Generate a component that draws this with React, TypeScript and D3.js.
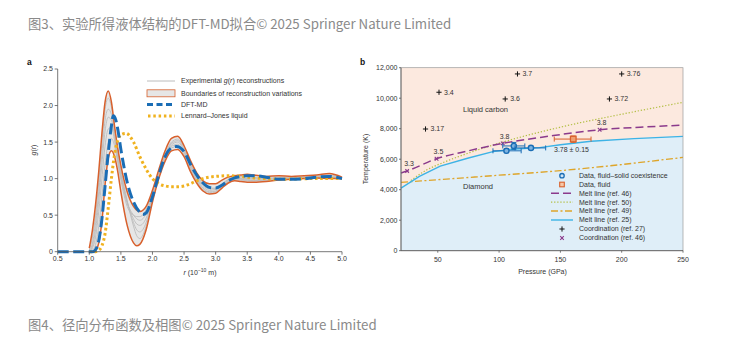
import React from "react";
import * as d3 from "d3";

const TITLE_TOP = "图3、实验所得液体结构的DFT-MD拟合© 2025 Springer Nature Limited";
const TITLE_BOTTOM = "图4、径向分布函数及相图© 2025 Springer Nature Limited";

// ---------- Panel a : g(r) ----------
const R_TICKS = [0.5, 1.0, 1.5, 2.0, 2.5, 3.0, 3.5, 4.0, 4.5, 5.0];
const G_TICKS = [0, 0.5, 1.0, 1.5, 2.0, 2.5];

const R_GRID = [1.0, 1.05, 1.1, 1.15, 1.2, 1.25, 1.3, 1.35, 1.4, 1.45, 1.5, 1.6, 1.7, 1.75, 1.8, 1.9, 2.0, 2.1, 2.2, 2.3, 2.4, 2.5, 2.6, 2.7, 2.8, 2.9, 3.0, 3.1, 3.2, 3.3, 3.4, 3.5, 3.6, 3.8, 4.0, 4.2, 4.4, 4.6, 4.8, 5.0];
const UPPER = [0.05, 0.3, 0.65, 1.1, 1.62, 2.05, 2.2, 2.05, 1.72, 1.42, 1.18, 0.82, 0.62, 0.57, 0.55, 0.62, 0.84, 1.12, 1.38, 1.55, 1.58, 1.45, 1.25, 1.08, 0.97, 0.93, 0.93, 0.98, 1.02, 1.04, 1.05, 1.06, 1.05, 1.03, 1.04, 1.03, 1.04, 1.05, 1.07, 1.02];
const LOWER = [0, 0, 0.02, 0.12, 0.42, 0.92, 1.28, 1.38, 1.3, 1.1, 0.82, 0.36, 0.12, 0.08, 0.1, 0.3, 0.68, 1.0, 1.24, 1.38, 1.4, 1.3, 1.1, 0.94, 0.83, 0.79, 0.8, 0.87, 0.94, 0.97, 0.96, 0.95, 0.95, 0.96, 0.98, 0.99, 1.0, 1.01, 1.0, 1.0];
const GRAY1 = [0.02, 0.2, 0.5, 0.95, 1.5, 1.95, 2.1, 1.98, 1.68, 1.38, 1.12, 0.7, 0.35, 0.22, 0.18, 0.35, 0.72, 1.05, 1.32, 1.5, 1.54, 1.42, 1.22, 1.05, 0.93, 0.87, 0.87, 0.93, 0.99, 1.02, 1.03, 1.03, 1.02, 1.0, 1.02, 1.01, 1.02, 1.03, 1.05, 1.01];
const GRAY2 = [0.01, 0.12, 0.4, 0.82, 1.35, 1.8, 1.95, 1.88, 1.62, 1.33, 1.08, 0.68, 0.4, 0.3, 0.27, 0.4, 0.74, 1.06, 1.32, 1.48, 1.52, 1.4, 1.2, 1.03, 0.91, 0.86, 0.86, 0.92, 0.98, 1.01, 1.01, 1.0, 1.0, 1.0, 1.01, 1.01, 1.02, 1.03, 1.04, 1.01];
const GRAY3 = [0, 0.08, 0.3, 0.7, 1.2, 1.65, 1.84, 1.8, 1.58, 1.3, 1.05, 0.68, 0.45, 0.38, 0.36, 0.46, 0.76, 1.06, 1.3, 1.46, 1.5, 1.38, 1.18, 1.01, 0.89, 0.84, 0.85, 0.91, 0.97, 1.0, 1.0, 0.99, 0.98, 0.99, 1.0, 1.0, 1.01, 1.02, 1.03, 1.0];
const GRAY4 = [0, 0.05, 0.2, 0.55, 1.0, 1.45, 1.68, 1.7, 1.52, 1.26, 1.02, 0.67, 0.5, 0.45, 0.43, 0.52, 0.78, 1.06, 1.29, 1.44, 1.47, 1.36, 1.16, 0.99, 0.87, 0.82, 0.83, 0.9, 0.96, 0.99, 0.99, 0.98, 0.97, 0.98, 0.99, 1.0, 1.01, 1.02, 1.02, 1.0];
const GRAY5 = [0, 0.02, 0.1, 0.35, 0.75, 1.2, 1.48, 1.55, 1.45, 1.22, 0.98, 0.62, 0.5, 0.48, 0.48, 0.58, 0.8, 1.05, 1.27, 1.42, 1.44, 1.33, 1.14, 0.97, 0.85, 0.81, 0.82, 0.89, 0.95, 0.98, 0.98, 0.97, 0.97, 0.97, 0.99, 1.0, 1.0, 1.01, 1.01, 1.0];
const GRAY_CURVES = [GRAY1, GRAY2, GRAY3, GRAY4, GRAY5];

const DFT_R = [0.5, 1.05, 1.1, 1.15, 1.2, 1.25, 1.3, 1.35, 1.38, 1.42, 1.45, 1.5, 1.6, 1.7, 1.8, 1.85, 1.9, 2.0, 2.1, 2.2, 2.3, 2.38, 2.5, 2.6, 2.7, 2.8, 2.9, 3.0, 3.1, 3.2, 3.3, 3.4, 3.5, 3.6, 3.8, 4.0, 4.2, 4.4, 4.6, 4.8, 5.0];
const DFT_G = [0, 0, 0.03, 0.15, 0.45, 0.9, 1.35, 1.72, 1.86, 1.8, 1.68, 1.4, 0.95, 0.68, 0.54, 0.51, 0.53, 0.75, 1.05, 1.3, 1.42, 1.44, 1.37, 1.2, 1.05, 0.94, 0.88, 0.87, 0.91, 0.97, 1.01, 1.03, 1.04, 1.04, 1.02, 0.99, 0.99, 1.0, 1.02, 1.03, 1.0];

const LJ_R = [1.0, 1.1, 1.15, 1.2, 1.25, 1.3, 1.35, 1.4, 1.45, 1.5, 1.58, 1.7, 1.8, 1.9, 2.0, 2.1, 2.2, 2.3, 2.4, 2.5, 2.6, 2.7, 2.8, 2.9, 3.0, 3.2, 3.4, 3.6, 3.8, 4.0, 4.5, 5.0];
const LJ_G = [0, 0, 0.02, 0.08, 0.25, 0.6, 1.0, 1.33, 1.52, 1.6, 1.62, 1.5, 1.3, 1.13, 1.0, 0.93, 0.9, 0.89, 0.89, 0.9, 0.93, 0.97, 1.0, 1.02, 1.03, 1.04, 1.03, 1.01, 1.0, 0.99, 1.0, 1.0];

// ---------- Panel b : phase diagram ----------
const P_TICKS = [50, 100, 150, 200, 250];
const T_TICKS = [0, 2000, 4000, 6000, 8000, 10000, 12000];

const MELT25_P = [20, 35, 52, 75, 95, 110, 133, 150, 175, 210, 250];
const MELT25_T = [4100, 4870, 5550, 6080, 6500, 6650, 6760, 6950, 7180, 7350, 7500];
const MELT46_P = [20, 25, 49, 75, 103, 140, 182, 215, 250];
const MELT46_T = [5100, 5230, 6030, 6550, 7040, 7500, 7930, 8100, 8230];
const MELT50_P = [28, 40, 55, 75, 100, 150, 200, 250];
const MELT50_T = [4600, 5250, 5800, 6400, 7050, 8100, 8950, 9730];
const MELT49_P = [20, 100, 150, 200, 250];
const MELT49_T = [4480, 4950, 5250, 5650, 6120];

const COORD27_P = [40, 51, 105, 115, 190, 200];
const COORD27_T = [7980, 10390, 9950, 11590, 9950, 11590];
const COORD27_LABELS = ["3.17", "3.4", "3.6", "3.7", "3.72", "3.76"];
const COORD46_P = [25, 49, 103, 182];
const COORD46_T = [5230, 6030, 7040, 7930];
const COORD46_LABELS = ["3.3", "3.5", "3.8", "3.8"];

const COEX_P = [106, 112, 126];
const COEX_T = [6550, 6870, 6740];
const COEX_PMIN = [95, 103, 113];
const COEX_PMAX = [118, 121, 138];
const COEX_TMIN = [6430, 6650, 6660];
const COEX_TMAX = [6670, 7100, 6820];

const FLUID_P = [160.5];
const FLUID_T = [7320];
const FLUID_PMIN = [145];
const FLUID_PMAX = [175];
const FLUID_TMIN = [7110];
const FLUID_TMAX = [7520];

const LEGEND_B = [
  "Data, fluid–solid coexistence",
  "Data, fluid",
  "Melt line (ref. 46)",
  "Melt line (ref. 50)",
  "Melt line (ref. 49)",
  "Melt line (ref. 25)",
  "Coordination (ref. 27)",
  "Coordination (ref. 46)",
];

const FONT = "'Liberation Sans', Arial, Helvetica, sans-serif";
const AX = "#555";
const TXT = "#333";
const ORANGE = "#d8602c";
const BLUE = "#1a6db5";
const GOLD = "#f0b21f";
const CYAN = "#3db3e6";
const PURPLE = "#8b3a8c";
const OLIVE = "#b3bf45";
const DASHDOT = "#dea52a";

function fmt(n: number) {
  return d3.format(",")(n);
}

export default function App() {
  const xA = d3.scaleLinear().domain([0.5, 5]).range([57.7, 342]);
  const yA = d3.scaleLinear().domain([0, 2.5]).range([251.7, 69]);
  const lineA = (rs: number[], gs: number[]) =>
    d3
      .line<number>()
      .x((_, i) => xA(rs[i]))
      .y((g) => yA(g))
      .curve(d3.curveMonotoneX)(gs) || "";
  const bandArea =
    d3
      .area<number>()
      .x((_, i) => xA(R_GRID[i]))
      .y0((_, i) => yA(LOWER[i]))
      .y1((_, i) => yA(UPPER[i]))
      .curve(d3.curveMonotoneX)(R_GRID) || "";

  const xB = d3.scaleLinear().domain([20, 250]).range([401, 683]);
  const yB = d3.scaleLinear().domain([0, 12000]).range([250.7, 67.7]);
  const lineB = (ps: number[], ts: number[], curve: any = d3.curveMonotoneX) =>
    d3
      .line<number>()
      .x((p) => xB(p))
      .y((_, i) => yB(ts[i]))
      .curve(curve)(ps) || "";
  const diamondArea =
    d3
      .area<number>()
      .x((p) => xB(p))
      .y0(() => yB(0))
      .y1((_, i) => yB(MELT25_T[i]))
      .curve(d3.curveLinear)(MELT25_P) || "";

  const legAy = [81, 93.3, 104.5, 116];

  const legBx0 = 551;
  const legBx1 = 573;
  const legBmx = 562;
  const legBtx = 579;
  const legBy = [175.7, 184.5, 193.3, 202.2, 211, 220, 229, 238];

  const cross = (cx: number, cy: number, s: number, color: string, w: number, key: string) => (
    <g key={key} stroke={color} strokeWidth={w}>
      <line x1={cx - s} x2={cx + s} y1={cy} y2={cy} />
      <line x1={cx} x2={cx} y1={cy - s} y2={cy + s} />
    </g>
  );
  const xmark = (cx: number, cy: number, s: number, color: string, w: number, key: string) => (
    <g key={key} stroke={color} strokeWidth={w}>
      <line x1={cx - s} x2={cx + s} y1={cy - s} y2={cy + s} />
      <line x1={cx - s} x2={cx + s} y1={cy + s} y2={cy - s} />
    </g>
  );

  return (
    <svg
      width={734}
      height={340}
      style={{ position: "absolute", left: 0, top: 0, background: "#fff" }}
      fontFamily={FONT}
    >
      <rect x={0} y={0} width={734} height={340} fill="#fff" />
      <text x={28} y={29} fontSize={13.3} fill="#8a8a8a" fontFamily="'Noto Sans CJK SC', sans-serif">
        {TITLE_TOP}
      </text>
      <text x={28} y={330} fontSize={13.3} fill="#8a8a8a" fontFamily="'Noto Sans CJK SC', sans-serif">
        {TITLE_BOTTOM}
      </text>

      {/* ================= Panel a ================= */}
      <text x={27} y={65} fontSize={8.5} fontWeight="bold" fill="#111">a</text>

      <path d={bandArea} fill="#e6e6e6" stroke="none" />
      {GRAY_CURVES.map((g, i) => (
        <path key={"g" + i} d={lineA(R_GRID, g)} fill="none" stroke="#bcbcbc" strokeWidth={0.9} />
      ))}
      <path d={lineA(R_GRID, UPPER)} fill="none" stroke={ORANGE} strokeWidth={1.5} />
      <path d={lineA(R_GRID, LOWER)} fill="none" stroke={ORANGE} strokeWidth={1.5} />
      <path d={lineA(LJ_R, LJ_G)} fill="none" stroke={GOLD} strokeWidth={3} strokeDasharray="2.6,2.6" />
      <path d={lineA(DFT_R, DFT_G)} fill="none" stroke={BLUE} strokeWidth={3} strokeDasharray="11,4.5" />

      <line x1={57.7} x2={57.7} y1={yA(2.5)} y2={yA(0)} stroke={AX} strokeWidth={0.8} />
      <line x1={57.7} x2={342} y1={yA(0)} y2={yA(0)} stroke={AX} strokeWidth={0.8} />
      {G_TICKS.map((g) => (
        <g key={"gt" + g}>
          <line x1={54.7} x2={57.7} y1={yA(g)} y2={yA(g)} stroke={AX} strokeWidth={0.8} />
          <text x={53} y={yA(g)} dy="0.35em" fontSize={7} fill={TXT} textAnchor="end">
            {g === 0 ? "0" : d3.format(".1f")(g)}
          </text>
        </g>
      ))}
      {R_TICKS.map((r) => (
        <g key={"rt" + r}>
          <line x1={xA(r)} x2={xA(r)} y1={yA(0)} y2={yA(0) + 3} stroke={AX} strokeWidth={0.8} />
          <text x={xA(r)} y={261} fontSize={7} fill={TXT} textAnchor="middle">
            {d3.format(".1f")(r)}
          </text>
        </g>
      ))}
      <text x={200} y={275} fontSize={7} fill={TXT} textAnchor="middle">
        <tspan fontStyle="italic">r</tspan> (10
        <tspan dy={-3} fontSize={5}>−10</tspan>
        <tspan dy={3}> m)</tspan>
      </text>
      <text transform="translate(36,150) rotate(-90)" fontSize={7} fill={TXT} textAnchor="middle">
        <tspan fontStyle="italic">g</tspan>(<tspan fontStyle="italic">r</tspan>)
      </text>

      <line x1={147} x2={175} y1={legAy[0]} y2={legAy[0]} stroke="#bcbcbc" strokeWidth={1} />
      <rect x={147} y={legAy[1] - 3.5} width={28} height={7} fill="#e6e6e6" stroke={ORANGE} strokeWidth={0.8} />
      <line x1={147} x2={175} y1={legAy[2]} y2={legAy[2]} stroke={BLUE} strokeWidth={3} strokeDasharray="6,3.5" />
      <line x1={148} x2={175} y1={legAy[3]} y2={legAy[3]} stroke={GOLD} strokeWidth={3} strokeDasharray="2.5,2.8" />
      <text x={181} y={legAy[0]} dy="0.35em" fontSize={7} fill={TXT}>
        Experimental <tspan fontStyle="italic">g</tspan>(<tspan fontStyle="italic">r</tspan>) reconstructions
      </text>
      <text x={181} y={legAy[1]} dy="0.35em" fontSize={7} fill={TXT}>Boundaries of reconstruction variations</text>
      <text x={181} y={legAy[2]} dy="0.35em" fontSize={7} fill={TXT}>DFT-MD</text>
      <text x={181} y={legAy[3]} dy="0.35em" fontSize={7} fill={TXT}>Lennard–Jones liquid</text>

      {/* ================= Panel b ================= */}
      <text x={360} y={65} fontSize={8.5} fontWeight="bold" fill="#111">b</text>
      <rect x={xB(20)} y={yB(12000)} width={xB(250) - xB(20)} height={yB(0) - yB(12000)} fill="#fce9df" />
      <path d={diamondArea} fill="#dfeef8" />

      <path d={lineB(MELT49_P, MELT49_T)} fill="none" stroke={DASHDOT} strokeWidth={1.3} strokeDasharray="7,2.5,2,2.5" />
      <path d={lineB(MELT50_P, MELT50_T)} fill="none" stroke={OLIVE} strokeWidth={1.2} strokeDasharray="1.3,1.8" />
      <path d={lineB(MELT25_P, MELT25_T, d3.curveLinear)} fill="none" stroke={CYAN} strokeWidth={1.4} />
      <path d={lineB(MELT46_P, MELT46_T)} fill="none" stroke={PURPLE} strokeWidth={1.5} strokeDasharray="8,4" />

      {COORD27_P.map((p, i) => (
        <g key={"c27" + i}>
          {cross(xB(p), yB(COORD27_T[i]), 2.6, "#111", 1, "c27m" + i)}
          <text x={xB(p) + 5} y={yB(COORD27_T[i])} dy="0.35em" fontSize={7} fill={TXT}>
            {COORD27_LABELS[i]}
          </text>
        </g>
      ))}
      {COORD46_P.map((p, i) => (
        <g key={"c46" + i}>
          {xmark(xB(p), yB(COORD46_T[i]), 1.8, PURPLE, 1.1, "c46m" + i)}
          <text x={xB(p) - 3} y={yB(COORD46_T[i]) - 7} dy="0.35em" fontSize={7} fill={TXT}>
            {COORD46_LABELS[i]}
          </text>
        </g>
      ))}

      {COEX_P.map((p, i) => (
        <g key={"cx" + i} stroke={BLUE} strokeWidth={1} fill="none">
          <line x1={xB(COEX_PMIN[i])} x2={xB(COEX_PMAX[i])} y1={yB(COEX_T[i])} y2={yB(COEX_T[i])} />
          <line x1={xB(COEX_PMIN[i])} x2={xB(COEX_PMIN[i])} y1={yB(COEX_T[i]) - 2.5} y2={yB(COEX_T[i]) + 2.5} />
          <line x1={xB(COEX_PMAX[i])} x2={xB(COEX_PMAX[i])} y1={yB(COEX_T[i]) - 2.5} y2={yB(COEX_T[i]) + 2.5} />
          <line x1={xB(p)} x2={xB(p)} y1={yB(COEX_TMIN[i])} y2={yB(COEX_TMAX[i])} />
          <line x1={xB(p) - 2.5} x2={xB(p) + 2.5} y1={yB(COEX_TMIN[i])} y2={yB(COEX_TMIN[i])} />
          <line x1={xB(p) - 2.5} x2={xB(p) + 2.5} y1={yB(COEX_TMAX[i])} y2={yB(COEX_TMAX[i])} />
          <circle cx={xB(p)} cy={yB(COEX_T[i])} r={2.6} fill="#7fb3e0" stroke={BLUE} strokeWidth={1.4} />
        </g>
      ))}
      {FLUID_P.map((p, i) => (
        <g key={"fl" + i} stroke={ORANGE} strokeWidth={1} fill="none">
          <line x1={xB(FLUID_PMIN[i])} x2={xB(FLUID_PMAX[i])} y1={yB(FLUID_T[i])} y2={yB(FLUID_T[i])} />
          <line x1={xB(FLUID_PMIN[i])} x2={xB(FLUID_PMIN[i])} y1={yB(FLUID_T[i]) - 2.5} y2={yB(FLUID_T[i]) + 2.5} />
          <line x1={xB(FLUID_PMAX[i])} x2={xB(FLUID_PMAX[i])} y1={yB(FLUID_T[i]) - 2.5} y2={yB(FLUID_T[i]) + 2.5} />
          <line x1={xB(p)} x2={xB(p)} y1={yB(FLUID_TMIN[i])} y2={yB(FLUID_TMAX[i])} />
          <line x1={xB(p) - 2.5} x2={xB(p) + 2.5} y1={yB(FLUID_TMIN[i])} y2={yB(FLUID_TMIN[i])} />
          <line x1={xB(p) - 2.5} x2={xB(p) + 2.5} y1={yB(FLUID_TMAX[i])} y2={yB(FLUID_TMAX[i])} />
          <rect x={xB(p) - 2.8} y={yB(FLUID_T[i]) - 2.8} width={5.6} height={5.6} fill="#f0a070" stroke={ORANGE} strokeWidth={1.3} />
        </g>
      ))}
      <text x={554} y={149.5} dy="0.35em" fontSize={7} fill={TXT}>3.78 ± 0.15</text>
      <text x={463} y={109} dy="0.35em" fontSize={7.5} fill={TXT}>Liquid carbon</text>
      <text x={463} y={186} dy="0.35em" fontSize={7.5} fill={TXT}>Diamond</text>

      <rect x={xB(20)} y={yB(12000)} width={xB(250) - xB(20)} height={yB(0) - yB(12000)} fill="none" stroke="#9a9a9a" strokeWidth={0.7} />
      <line x1={xB(20)} x2={xB(20)} y1={yB(12000)} y2={yB(0)} stroke={AX} strokeWidth={0.8} />
      <line x1={xB(20)} x2={xB(250)} y1={yB(0)} y2={yB(0)} stroke={AX} strokeWidth={0.8} />
      {T_TICKS.map((t) => (
        <g key={"tt" + t}>
          <line x1={xB(20) - 2} x2={xB(20)} y1={yB(t)} y2={yB(t)} stroke={AX} strokeWidth={0.8} />
          <text x={397.5} y={yB(t)} dy="0.35em" fontSize={7} fill={TXT} textAnchor="end">
            {fmt(t)}
          </text>
        </g>
      ))}
      {P_TICKS.map((p) => (
        <g key={"pt" + p}>
          <line x1={xB(p)} x2={xB(p)} y1={yB(0)} y2={yB(0) + 2} stroke={AX} strokeWidth={0.8} />
          <text x={xB(p)} y={259.5} dy="0.35em" fontSize={7} fill={TXT} textAnchor="middle">
            {p}
          </text>
        </g>
      ))}
      <text x={542.5} y={272} dy="0.35em" fontSize={7} fill={TXT} textAnchor="middle">Pressure (GPa)</text>
      <text transform="translate(366,159) rotate(-90)" dy="0.35em" fontSize={7} fill={TXT} textAnchor="middle">
        Temperature (K)
      </text>

      <circle cx={legBmx} cy={legBy[0]} r={2.2} fill="#cfe3f4" stroke={BLUE} strokeWidth={1.3} />
      <rect x={legBmx - 2.3} y={legBy[1] - 2.3} width={4.6} height={4.6} fill="#f6c7a8" stroke={ORANGE} strokeWidth={1.1} />
      <line x1={legBx0} x2={legBx1} y1={legBy[2]} y2={legBy[2]} stroke={PURPLE} strokeWidth={1.5} strokeDasharray="8,4" />
      <line x1={legBx0} x2={legBx1} y1={legBy[3]} y2={legBy[3]} stroke={OLIVE} strokeWidth={1.2} strokeDasharray="1.3,1.8" />
      <line x1={legBx0} x2={legBx1} y1={legBy[4]} y2={legBy[4]} stroke={DASHDOT} strokeWidth={1.3} strokeDasharray="7,2.5,2,2.5" />
      <line x1={legBx0} x2={legBx1} y1={legBy[5]} y2={legBy[5]} stroke={CYAN} strokeWidth={1.4} />
      {cross(legBmx, legBy[6], 2.6, "#111", 1, "lc27")}
      {xmark(legBmx, legBy[7], 1.8, PURPLE, 1.1, "lc46")}
      {LEGEND_B.map((t, i) => (
        <text key={"lb" + i} x={legBtx} y={legBy[i]} dy="0.35em" fontSize={7} fill={TXT}>
          {t}
        </text>
      ))}
    </svg>
  );
}
